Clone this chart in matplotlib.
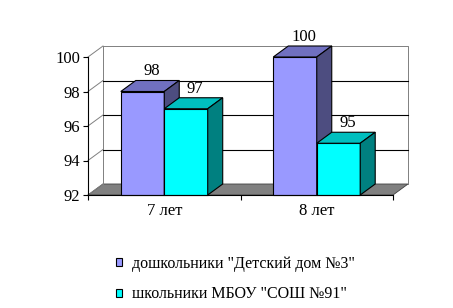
import matplotlib
matplotlib.use("Agg")
import matplotlib.pyplot as plt
from matplotlib.patches import Polygon, Patch

# data
categories = ["7 лет", "8 лет"]
series_names = ['дошкольники "Детский дом №3"', 'школьники МБОУ "СОШ №91"']
values_preschool = [98, 100]
values_school = [97, 95]
y_ticks = [92, 94, 96, 98, 100]

face_colors = ["#9999FF", "#00FFFF"]
top_colors = ["#7070C0", "#00BFBF"]
side_colors = ["#4D4D80", "#008080"]

plt.rcParams["font.family"] = ["Liberation Serif", "DejaVu Serif"]
plt.rcParams["font.size"] = 12

fig = plt.figure(figsize=(4.53, 3.08), dpi=100)
ax = fig.add_axes([88 / 453, 1 - 195 / 308, 305 / 453, 138 / 308])
ymin, ymax = 92, 100
ax.set_xlim(0, 2)
ax.set_ylim(ymin, ymax)

# depth offset in data units (about 15 px right, 11 px up)
dx = 15 / 152.5
dy = 11 / 17.25
w = 0.285

# floor
ax.add_patch(Polygon([(0, ymin), (2, ymin), (2 + dx, ymin + dy), (dx, ymin + dy)],
                     closed=True, facecolor="#808080", edgecolor="#404040", lw=0.6,
                     clip_on=False, zorder=1))

# back wall frame and grid
ax.plot([dx, 2 + dx, 2 + dx], [ymax + dy, ymax + dy, ymin + dy], color="#808080", lw=0.7,
        clip_on=False, zorder=1)
ax.plot([dx, dx], [ymin + dy, ymax + dy], color="#808080", lw=0.7, clip_on=False, zorder=1)
for t in y_ticks[1:-1]:
    ax.plot([dx, 2 + dx], [t + dy, t + dy], color="black", lw=0.8, clip_on=False, zorder=1)
for t in y_ticks:
    ax.plot([0, dx], [t, t + dy], color="#808080", lw=0.7, clip_on=False, zorder=1)


def bar3d(x0, val, i):
    x1 = x0 + w
    ax.add_patch(Polygon([(x0, ymin), (x1, ymin), (x1, val), (x0, val)], closed=True,
                         facecolor=face_colors[i], edgecolor="black", lw=0.8,
                         clip_on=False, zorder=3))
    ax.add_patch(Polygon([(x0, val), (x1, val), (x1 + dx, val + dy), (x0 + dx, val + dy)],
                         closed=True, facecolor=top_colors[i], edgecolor="black", lw=0.8,
                         clip_on=False, zorder=3))
    ax.add_patch(Polygon([(x1, ymin), (x1 + dx, ymin + dy), (x1 + dx, val + dy), (x1, val)],
                         closed=True, facecolor=side_colors[i], edgecolor="black", lw=0.8,
                         clip_on=False, zorder=3))
    ax.annotate(str(val), (x0 + w / 2 + dx / 2, val + dy), xytext=(1, 6.5),
                textcoords="offset points", ha="center", va="center", zorder=4,
                annotation_clip=False)


for k in range(len(categories)):
    c = k + 0.5
    bar3d(c - w, values_preschool[k], 0)
    bar3d(c, values_school[k], 1)

# axes
for s in ["top", "right"]:
    ax.spines[s].set_visible(False)
for s in ["left", "bottom"]:
    ax.spines[s].set_linewidth(0.8)
    ax.spines[s].set_zorder(5)
ax.set_yticks(y_ticks)
ax.tick_params(axis="y", length=3.5, width=0.8, pad=2)
ax.set_xticks([0, 1, 2])
ax.set_xticklabels([])
ax.tick_params(axis="x", which="major", length=3.5, width=0.8, direction="out")
ax.set_xticks([0.5, 1.5], minor=True)
ax.set_xticklabels(categories, minor=True)
ax.tick_params(axis="x", which="minor", length=0, pad=6)
ax.set_facecolor("none")

handles = [Patch(facecolor=face_colors[0], edgecolor="black", lw=0.8),
           Patch(facecolor=face_colors[1], edgecolor="black", lw=0.8)]
fig.legend(handles, series_names, loc="upper left", bbox_to_anchor=(108 / 453, 1 - 248 / 308),
           frameon=False, handlelength=0.4, handleheight=0.4, handletextpad=0.6,
           labelspacing=0.9, borderpad=0, fontsize=11.5)

fig.savefig("out.png", dpi=100)
